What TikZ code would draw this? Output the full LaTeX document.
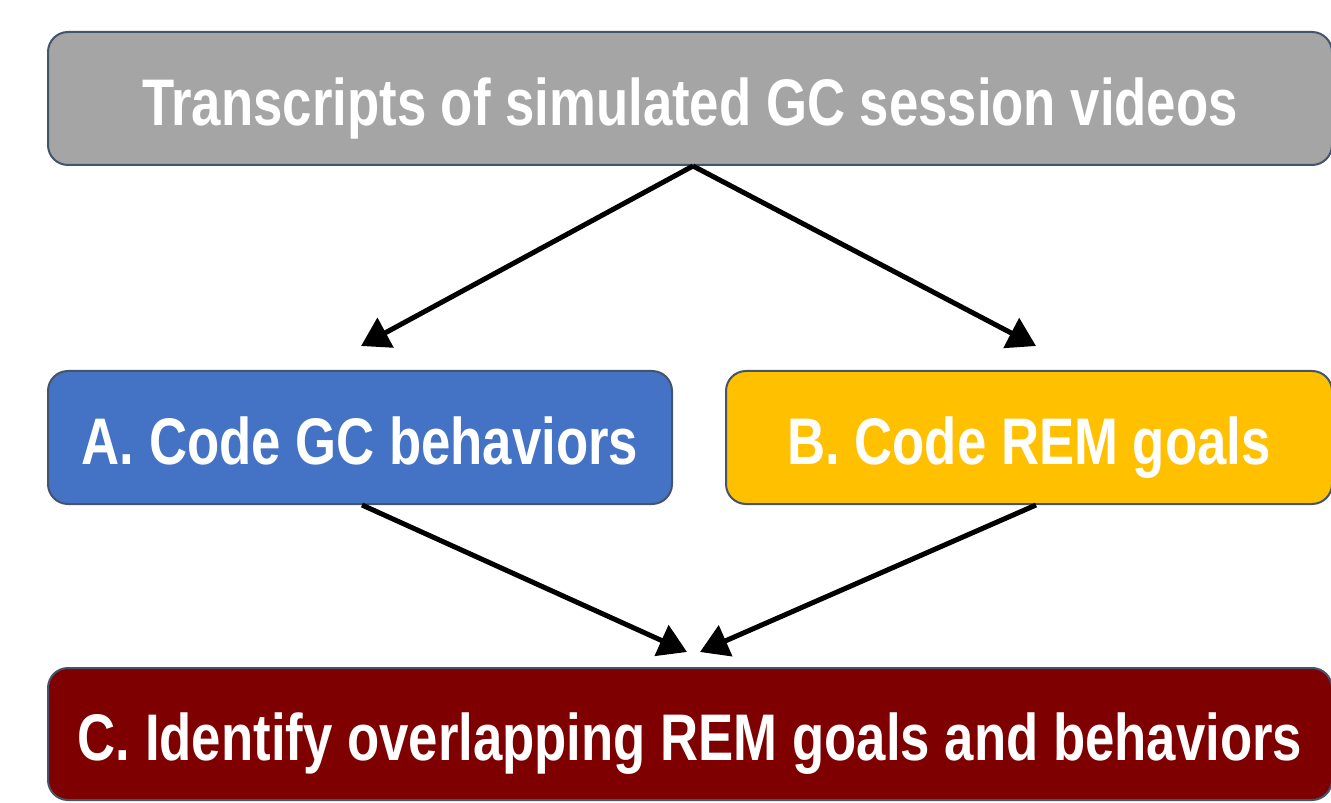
\documentclass[tikz,border=0pt]{standalone}
\usepackage{fontspec}
\setmainfont{Liberation Sans}[FakeStretch=0.8]
\usepackage{xcolor}
\usepackage{tikz}
\usetikzlibrary{positioning,arrows.meta}
\definecolor{srcgray}{HTML}{A5A5A5}
\definecolor{gcblue}{HTML}{4472C4}
\definecolor{remyellow}{HTML}{FFC000}
\definecolor{ovlred}{HTML}{7F0000}
\definecolor{edgeslate}{HTML}{44546A}

\begin{document}
\begin{tikzpicture}[-{Triangle[length=0.56cm,width=0.66cm]} ,line width=0.1cm ,on grid ,box/.style ={ rectangle ,rounded corners=0.4cm ,draw=edgeslate ,line width=0.04cm ,text=white ,font=\bfseries\fontsize{37.5}{40}\selectfont ,text height=1.07cm ,text depth=0cm ,minimum height=2.66cm}]
\useasboundingbox (0,0) rectangle (26.62,-16.06);
\node[box, fill=srcgray, minimum width=25.68cm] (src) at (13.8,-1.97) {Transcripts of simulated GC session videos};
\node[box, fill=gcblue, minimum width=12.48cm] (gcb) [below left = 6.78cm and 6.6cm of src] {A. Code GC behaviors};
\node[box, fill=remyellow, minimum width=12.12cm] (rem) [below right = 6.78cm and 6.78cm of src] {B. Code REM goals};
\node[box, fill=ovlred, minimum width=25.68cm, minimum height=2.64cm] (ovl) [below = 12.71cm of src] {C. Identify overlapping REM goals and behaviors};
% arrow tips stop short of the boxes
\coordinate (gcin) at (7.22,-6.92);
\coordinate (remin) at (20.72,-6.92);
\coordinate (ovlinl) at (13.74,-13.04);
\coordinate (ovlinr) at (14.0,-13.04);
\draw ([xshift=0.06cm]src.south) -- (gcin);
\draw ([xshift=0.06cm]src.south) -- (remin);
\draw ([xshift=0.04cm]gcb.south) -- (ovlinl);
\draw ([xshift=0.14cm]rem.south) -- (ovlinr);
\end{tikzpicture}
\end{document}
